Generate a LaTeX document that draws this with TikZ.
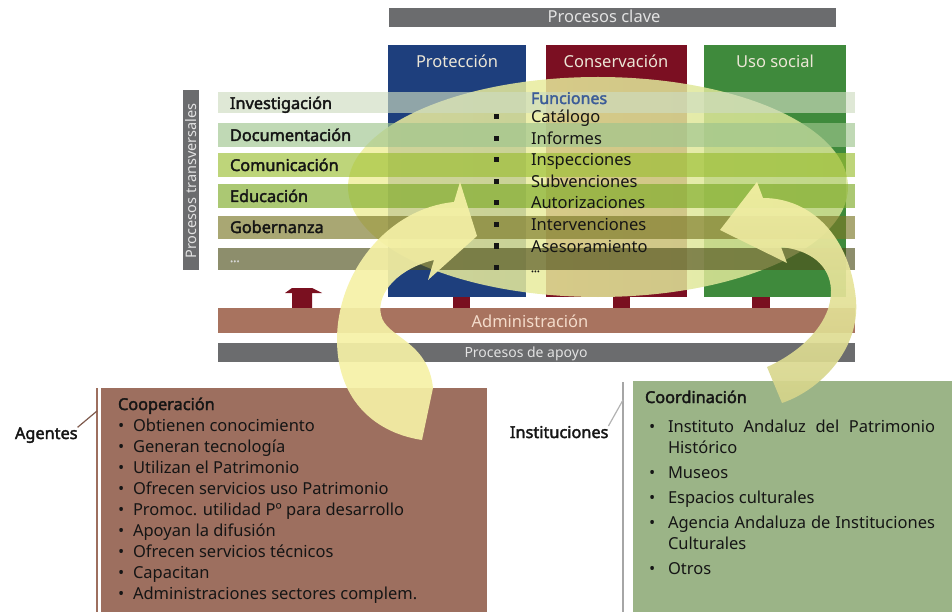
\documentclass[tikz,border=0pt]{standalone}
\usepackage{fontspec}
\setmainfont{Noto Sans}[AutoFakeBold=2.2]
\definecolor{keygrey}{HTML}{6B6C6E}
\definecolor{protblue}{HTML}{1E3F7D}
\definecolor{consred}{HTML}{7B0F22}
\definecolor{usogreen}{HTML}{3F8A3C}
\definecolor{pedestal}{HTML}{7A1020}
\definecolor{adminbrown}{HTML}{A8735F}
\definecolor{coopbrown}{HTML}{9D6F5F}
\definecolor{coordgreen}{HTML}{9BB487}
\definecolor{ellleft}{HTML}{F0EF9E}
\definecolor{ellright}{HTML}{D8E598}
\definecolor{arrowpale}{HTML}{F5F1A6}
\definecolor{arrowolive}{HTML}{D4D38A}
\definecolor{headtext}{HTML}{ECE6D6}
\definecolor{bartext}{HTML}{E2E2E2}
\definecolor{admintext}{HTML}{F4DCCB}
\definecolor{funcblue}{HTML}{3C5C98}
\definecolor{ink}{HTML}{151515}
\definecolor{bInv}{RGB}{206,220,192}
\definecolor{bDoc}{RGB}{158,197,141}
\definecolor{bCom}{RGB}{155,190,50}
\definecolor{bEdu}{RGB}{126,171,40}
\definecolor{bGob}{RGB}{123,120,40}
\definecolor{bEtc}{RGB}{80,81,29}
\begin{document}
\begin{tikzpicture}[x=1pt,y=-1pt,
  every node/.style={inner sep=0pt, outer sep=0pt},
  txt/.style={font=\fontsize{16.5}{20}\selectfont, text=ink},
  boldtxt/.style={font=\fontsize{16.3}{20}\selectfont\bfseries, text=ink},
  headlabel/.style={font=\fontsize{16.5}{20}\selectfont, text=headtext, anchor=base},
  barlabel/.style={font=\fontsize{16.5}{20}\selectfont, text=bartext, anchor=base},
  band/.style={fill opacity=0.65},
  sqbullet/.style={fill=ink, minimum size=5pt, inner sep=0pt},
  linkline/.style={line width=1.2pt},
  bigarrow/.style={fill opacity=0.92}]
\useasboundingbox (0,0) rectangle (952,612);

% key processes header bar
\fill[keygrey] (389,8) rectangle (836,27);
\node[barlabel] (clave) at (604,23) {Procesos clave};

% the three key process columns
\fill[protblue] (388,45) rectangle (526,297);
\fill[consred] (546,45) rectangle (687,297);
\fill[usogreen] (704,45) rectangle (846,297);
\node[headlabel] (proteccion) at (457,68) {Protección};
\node[headlabel] (conservacion) at (616,68) {Conservación};
\node[headlabel] (usosocial) at (775,68) {Uso social};

% pedestals under the columns and the small up arrow
\fill[pedestal] (453,297) rectangle (470,308);
\fill[pedestal] (613,297) rectangle (630,308);
\fill[pedestal] (752,297) rectangle (770,308);
\fill[pedestal] (285,293) -- (292,288) -- (312,288) -- (322,293) -- (312,293)
  -- (312,308) -- (292,308) -- (292,293) -- cycle;

% functions ellipse
\path[left color=ellleft, right color=ellright, fill opacity=0.85]
  (598,187) ellipse [x radius=250, y radius=110];

% transversal process bands
\fill[bInv, band] (218,92) rectangle (855,113);
\fill[bDoc, band] (218,123) rectangle (855,147);
\fill[bCom, band] (218,153) rectangle (855,177);
\fill[bEdu, band] (218,184) rectangle (855,208);
\fill[bGob, band] (218,216) rectangle (855,239);
\fill[bEtc, band] (218,248) rectangle (855,270);

% vertical label bar
\fill[keygrey] (183,90) rectangle (199,270);
\node[font=\fontsize{14.5}{16}\selectfont, text=bartext, rotate=90] (transv) at (191.5,181) {Procesos transversales};

% support bars
\fill[adminbrown] (218,308) rectangle (855,333);
\node[font=\fontsize{16.5}{20}\selectfont, text=admintext, anchor=base] (admin) at (530,327) {Administración};
\fill[keygrey] (218,343) rectangle (855,362);
\node[font=\fontsize{14}{16}\selectfont, text=bartext, anchor=base] (apoyo) at (526,357) {Procesos de apoyo};

% lower boxes
\fill[coopbrown] (101,388) rectangle (487,612);
\draw[coopbrown, line width=1.6pt] (97,388) -- (97,612);
\fill[coordgreen] (633,381) rectangle (952,612);
\draw[black!35, line width=1.3pt] (623,382) -- (623,612);
\coordinate (agtop) at (97,411);
\coordinate (insttop) at (623,400);

% curved arrows
\path[fill=arrowpale, bigarrow]
  (477,236) -- (428,280) -- (434,260)
  .. controls (400,268) and (376,292) .. (381,315)
  .. controls (386,338) and (428,340) .. (433,388)
  -- (422,440)
  .. controls (370,432) and (337,395) .. (337,340)
  .. controls (337,270) and (390,208) .. (454,202)
  -- (460,182) -- cycle;
\path[top color=arrowpale, bottom color=arrowolive, bigarrow]
  (720,230) -- (757,182) -- (763,198)
  .. controls (810,198) and (850,235) .. (856,300)
  .. controls (860,350) and (820,390) .. (782,403)
  -- (767,367)
  .. controls (805,350) and (832,320) .. (831,290)
  .. controls (830,265) and (810,250) .. (781,247)
  -- (787,263) -- cycle;

% transversal process labels
\node[boldtxt, anchor=base west] (inv) at (230,109) {Investigación};
\node[boldtxt, anchor=base west] (doc) at (230,141) {Documentación};
\node[boldtxt, anchor=base west] (com) at (230,171) {Comunicación};
\node[boldtxt, anchor=base west] (edu) at (230,202) {Educación};
\node[boldtxt, anchor=base west] (gob) at (230,233) {Gobernanza};
\node[font=\fontsize{12}{14}\selectfont\bfseries, text=black!15, anchor=base west] (etc) at (230,262) {...};

% functions list
\node[font=\fontsize{16}{20}\selectfont\bfseries, text=funcblue, anchor=base west] (funciones) at (531,104) {Funciones};
\foreach \t [count=\i] in {Catálogo, Informes, Inspecciones, Subvenciones,
    Autorizaciones, Intervenciones, Asesoramiento} {
  \node[txt, anchor=base west] (func\i) at (531,{123+21.5*(\i-1)}) {\t};
  \node[sqbullet] (fb\i) at (496,{117+21.5*(\i-1)}) {};
}
\node[sqbullet] (fb8) at (496,267) {};
\node[font=\fontsize{11}{12}\selectfont\bfseries, text=ink, anchor=base west] (funcetc) at (531,272) {...};

% agents box
\node[boldtxt, anchor=base west] (agentes) at (15,439) {Agentes};
\draw[linkline, draw=coopbrown!80!black] (agentes.north east) -- (agtop);
\node[boldtxt, anchor=base west] (coop) at (118,410) {Cooperación};
\foreach \t [count=\i] in {Obtienen conocimiento, Generan tecnología,
    Utilizan el Patrimonio, Ofrecen servicios uso Patrimonio,
    Promoc. utilidad Pº para desarrollo, Apoyan la difusión,
    Ofrecen servicios técnicos, Capacitan,
    Administraciones sectores complem.} {
  \node[txt, anchor=base west] (coopitem\i) at (118,{431+21*(\i-1)}) {\makebox[15pt][l]{•}\t};
}

% institutions box
\node[boldtxt, anchor=base west] (instituciones) at (510,438) {Instituciones};
\draw[linkline, draw=black!30] (instituciones.north east) -- (insttop);
\node[boldtxt, anchor=base west] (coord) at (645,403) {Coordinación};
\node[txt, anchor=base west] (coord1) at (668,432) {\makebox[267pt][s]{Instituto Andaluz del Patrimonio}};
\node[txt, anchor=base west] (coord1b) at (668,453) {Histórico};
\node[txt, anchor=base west] (coord2) at (668,478) {Museos};
\node[txt, anchor=base west] (coord3) at (668,503) {Espacios culturales};
\node[txt, anchor=base west] (coord4) at (668,528) {\makebox[267pt][s]{Agencia Andaluza de Instituciones}};
\node[txt, anchor=base west] (coord4b) at (668,549) {Culturales};
\node[txt, anchor=base west] (coord5) at (668,574) {Otros};
\foreach \y/\n in {432/1, 478/2, 503/3, 528/4, 574/5}
  \node[txt, anchor=base west] (cb\n) at (649,\y) {•};
\end{tikzpicture}
\end{document}
